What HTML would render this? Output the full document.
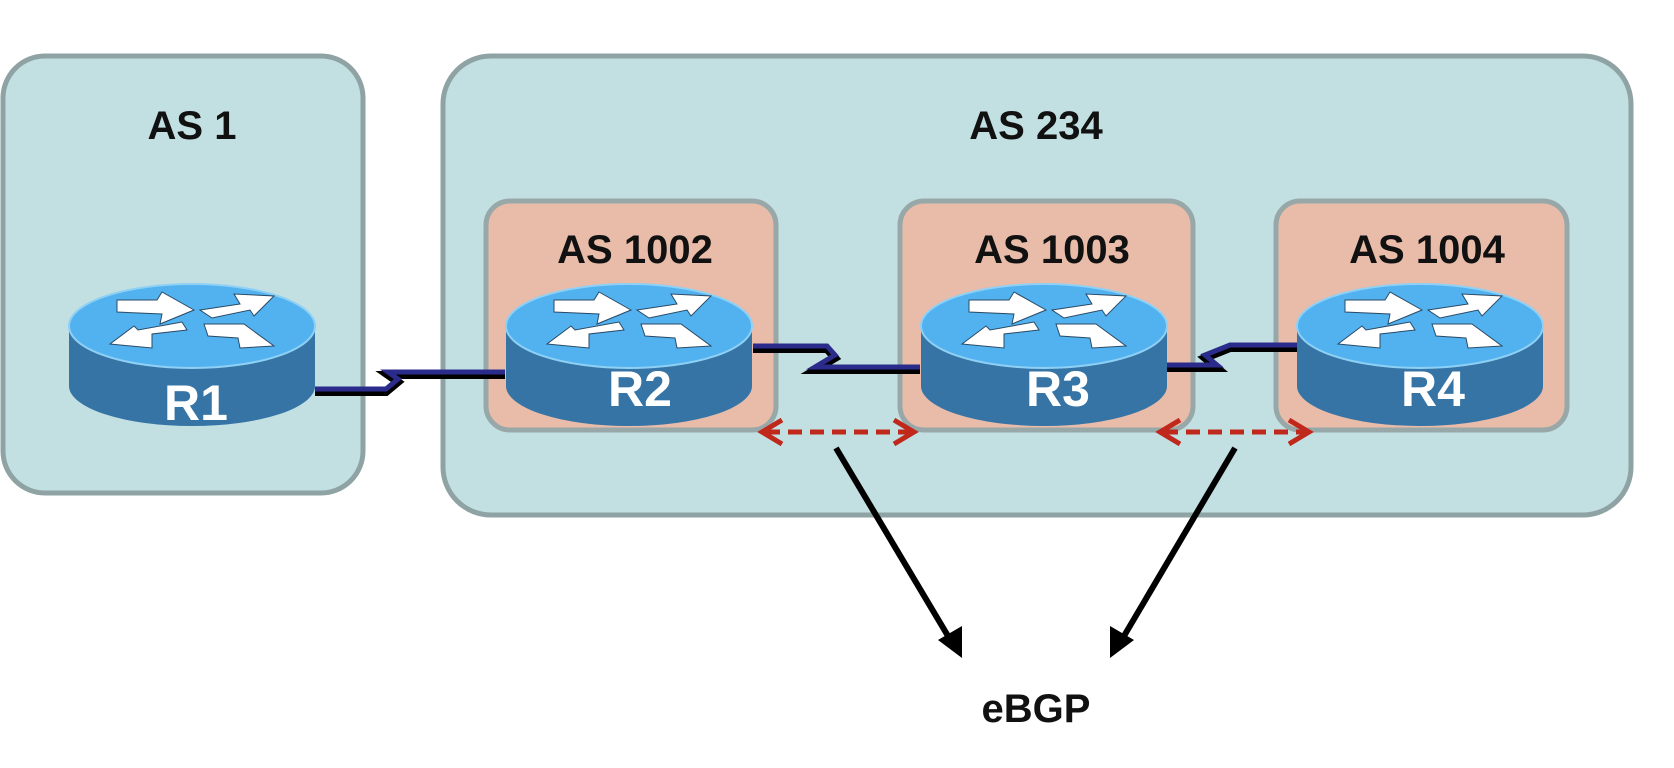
<!DOCTYPE html>
<html><head><style>
html,body{margin:0;padding:0;background:#fff;}
svg{display:block;}
text{font-family:"Liberation Sans",Arial,sans-serif;}
</style></head><body>
<svg width="1674" height="768" viewBox="0 0 1674 768" xmlns="http://www.w3.org/2000/svg">
<defs>
<g id="rt">
  <path d="M-123,0 L-123,60 A123,40 0 0 0 123,60 L123,0 Z" fill="#3574a5"/>
  <ellipse cx="0" cy="0" rx="123" ry="42" fill="#52b2ef" stroke="#8fd0f5" stroke-width="2"/>
  <g fill="#fff" stroke="#2a4a66" stroke-width="1">
    <path d="M-75,-26 L-35,-26 L-30,-34 L2,-16 L-32,-2 L-30,-12 L-75,-14 Z"/>
    <path d="M8,-16 L48,-22 L42,-32 L82,-30 L62,-10 L58,-16 L20,-8 Z"/>
    <path d="M-5,4 L-40,8 L-40,22 L-82,18 L-58,0 L-54,4 L-10,-4 Z"/>
    <path d="M12,-2 L52,-2 L82,20 L48,22 L46,12 L16,10 Z"/>
  </g>
</g>
</defs>
<rect x="3" y="56" width="360" height="437" rx="42" fill="#c2e0e2" stroke="#8fa3a4" stroke-width="5"/>
<rect x="443" y="56" width="1188" height="459" rx="48" fill="#c2e0e2" stroke="#8fa3a4" stroke-width="5"/>
<rect x="486" y="201" width="290" height="229" rx="24" fill="#e9bcaa" stroke="#98a8a8" stroke-width="5"/>
<rect x="900" y="201" width="293" height="229" rx="24" fill="#e9bcaa" stroke="#98a8a8" stroke-width="5"/>
<rect x="1276" y="201" width="291" height="229" rx="24" fill="#e9bcaa" stroke="#98a8a8" stroke-width="5"/>
<g font-size="40" font-weight="bold" text-anchor="middle" fill="#111">
<text x="192" y="139">AS 1</text>
<text x="1036" y="139">AS 234</text>
<text x="635" y="263">AS 1002</text>
<text x="1052" y="263">AS 1003</text>
<text x="1427" y="263">AS 1004</text>
<text x="1036" y="722">eBGP</text>
</g>
<g fill="none" stroke-linejoin="miter">
<polyline points="315,392 386,392 398,382 388,375 418,375 505,375" stroke="#000" stroke-width="8"/>
<polyline points="315,389 386,389 398,379 388,372 418,372 505,372" stroke="#2b2b8c" stroke-width="5"/>
<polyline points="753,349 827,349 835,358 815,370 920,370" stroke="#000" stroke-width="8"/>
<polyline points="753,346 827,346 835,355 815,367 920,367" stroke="#2b2b8c" stroke-width="5"/>
<polyline points="1167,368 1217,368 1205,358 1230,348 1297,348" stroke="#000" stroke-width="8"/>
<polyline points="1167,365 1217,365 1205,355 1230,345 1297,345" stroke="#2b2b8c" stroke-width="5"/>
</g>
<use href="#rt" x="192" y="326"/>
<use href="#rt" x="629" y="326"/>
<use href="#rt" x="1044" y="326"/>
<use href="#rt" x="1420" y="326"/>
<g font-size="50" font-weight="bold" text-anchor="middle" fill="#fff">
<text x="196" y="420">R1</text>
<text x="640" y="406">R2</text>
<text x="1058" y="406">R3</text>
<text x="1433" y="406">R4</text>
</g>
<g stroke="#c0281c" stroke-width="5" fill="none">
<line x1="766" y1="432" x2="910" y2="432" stroke-dasharray="14,8"/>
<polyline points="782,420 762,432 782,444"/>
<polyline points="894,420 914,432 894,444"/>
<line x1="1164" y1="432" x2="1305" y2="432" stroke-dasharray="14,8"/>
<polyline points="1180,420 1160,432 1180,444"/>
<polyline points="1289,420 1309,432 1289,444"/>
</g>
<g stroke="#000" stroke-width="6" fill="none">
<line x1="836" y1="448" x2="948" y2="636"/>
<line x1="1235" y1="448" x2="1124" y2="636"/>
</g>
<polygon points="938,640 962,626 962,658" fill="#000"/>
<polygon points="1110,658 1110,626 1134,640" fill="#000"/>
</svg>
</body></html>
